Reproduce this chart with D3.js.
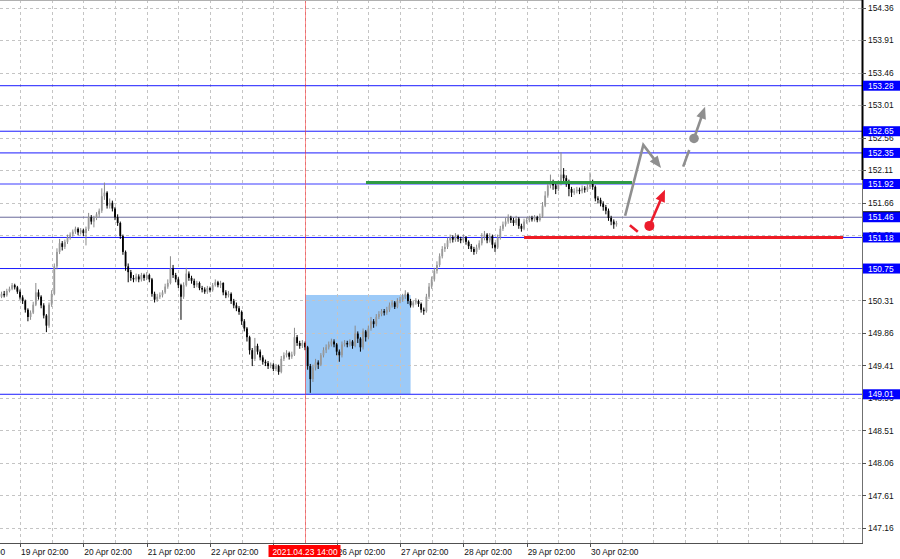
<!DOCTYPE html>
<html><head><meta charset="utf-8">
<script src="https://cdn.jsdelivr.net/npm/d3@7"></script>
<style>
body{margin:0;background:#fff;overflow:hidden;}
svg{display:block;}
text{font-family:"Liberation Sans",Arial,sans-serif;font-size:8.4px;}
</style>
</head><body>
<svg id="c" width="900" height="559"></svg>
<script>
// ---- H1 candles, bar 0 = 16 Apr 18:00 ----
const openP = [150.33,150.36,150.40,150.38,150.44,150.47,150.52,150.49,150.43,150.35,
150.30,150.18,150.08,150.14,150.25,150.42,150.36,150.24,150.10,149.96,
150.25,150.40,150.78,150.98,151.10,151.05,151.12,151.18,151.22,151.26,
151.30,151.25,151.28,151.24,151.30,151.46,151.40,151.45,151.50,151.55,
151.75,151.80,151.62,151.66,151.58,151.46,151.38,151.20,150.98,150.78,
150.70,150.62,150.60,150.64,150.60,150.66,150.62,150.66,150.60,150.40,
150.32,150.36,150.38,150.42,150.50,150.55,150.75,150.66,150.60,150.52,
150.36,150.52,150.68,150.62,150.58,150.52,150.55,150.48,150.46,150.43,
150.48,150.45,150.52,150.56,150.52,150.55,150.42,150.38,150.40,150.30,
150.24,150.20,150.15,150.02,149.92,149.80,149.62,149.50,149.68,149.60,
149.52,149.46,149.44,149.40,149.42,149.36,149.40,149.32,149.50,149.55,
149.58,149.53,149.56,149.80,149.72,149.68,149.72,149.66,149.40,149.22,
149.38,149.45,149.42,149.55,149.62,149.66,149.70,149.74,149.70,149.60,
149.55,149.70,149.72,149.70,149.74,149.68,149.85,149.78,149.66,149.88,
149.80,149.92,150.02,149.98,150.08,150.12,150.16,150.14,150.18,150.24,
150.28,150.22,150.30,150.32,150.36,150.40,150.30,150.24,150.28,150.30,
150.26,150.18,150.16,150.36,150.50,150.60,150.72,150.80,150.92,151.02,
151.05,151.14,151.18,151.15,151.20,151.16,151.14,151.18,151.12,151.06,
151.02,150.98,151.04,151.10,151.18,151.22,151.14,151.20,151.08,151.04,
151.18,151.30,151.36,151.40,151.45,151.42,151.38,151.44,151.34,151.30,
151.40,151.42,151.45,151.43,151.46,151.42,151.47,151.62,151.76,151.90,
151.95,151.90,151.85,151.92,152.05,152.00,151.95,151.85,151.80,151.82,
151.84,151.82,151.86,151.84,151.88,151.95,151.88,151.72,151.70,151.65,
151.60,151.55,151.45,151.40,151.36];
const highP = [150.40,150.43,150.44,150.47,150.50,150.55,150.54,150.51,150.46,150.38,
150.32,150.20,150.17,150.29,150.55,150.46,150.38,150.27,150.12,150.28,
150.45,150.82,151.03,151.16,151.13,151.15,151.22,151.25,151.29,151.33,
151.32,151.31,151.30,151.33,151.52,151.49,151.48,151.53,151.58,151.86,
151.94,151.82,151.72,151.69,151.60,151.50,151.40,151.22,151.00,150.82,
150.73,150.66,150.68,150.67,150.69,150.68,150.70,150.68,150.62,150.43,
150.40,150.42,150.45,150.54,150.60,150.92,150.80,150.69,150.63,150.54,
150.56,150.76,150.71,150.65,150.61,150.58,150.57,150.51,150.49,150.51,
150.50,150.55,150.60,150.58,150.58,150.56,150.45,150.44,150.42,150.33,
150.28,150.23,150.17,150.05,149.94,149.82,149.65,149.79,149.71,149.63,
149.55,149.49,149.47,149.45,149.44,149.43,149.42,149.54,149.59,149.62,
149.60,149.60,149.93,149.83,149.75,149.76,149.74,149.68,149.43,149.42,
149.50,149.48,149.58,149.66,149.70,149.74,149.78,149.77,149.72,149.63,
149.74,149.76,149.75,149.77,149.76,149.96,149.88,149.80,149.92,149.90,
149.96,150.08,150.05,150.12,150.16,150.19,150.19,150.22,150.28,150.31,
150.30,150.34,150.36,150.40,150.45,150.42,150.33,150.31,150.34,150.32,
150.28,150.21,150.40,150.55,150.64,150.76,150.85,150.96,151.06,151.10,
151.18,151.22,151.21,151.24,151.22,151.19,151.22,151.20,151.14,151.09,
151.05,151.08,151.14,151.24,151.27,151.24,151.24,151.22,151.11,151.22,
151.34,151.40,151.45,151.50,151.48,151.45,151.48,151.46,151.37,151.44,
151.46,151.48,151.48,151.49,151.48,151.51,151.67,151.82,151.96,152.05,
151.98,151.93,151.97,152.36,152.14,152.04,151.98,151.88,151.86,151.88,
151.87,151.90,151.89,151.93,152.08,151.98,151.90,151.75,151.73,151.68,
151.63,151.58,151.48,151.43,151.41];
const lowP = [150.30,150.34,150.35,150.36,150.42,150.45,150.46,150.40,150.32,150.26,
150.14,150.02,150.04,150.12,150.23,150.32,150.20,150.06,149.87,149.93,
150.22,150.38,150.74,150.95,151.00,151.02,151.09,151.15,151.19,151.23,
151.21,151.22,151.20,151.07,151.27,151.36,151.32,151.42,151.46,151.52,
151.70,151.58,151.58,151.54,151.42,151.34,151.16,150.94,150.72,150.56,
150.58,150.56,150.57,150.56,150.57,150.58,150.59,150.56,150.36,150.28,
150.29,150.33,150.35,150.40,150.47,150.53,150.62,150.56,150.48,150.04,
150.33,150.50,150.58,150.54,150.48,150.49,150.45,150.42,150.40,150.40,
150.42,150.43,150.50,150.49,150.48,150.38,150.34,150.35,150.26,150.20,
150.16,150.11,149.97,149.88,149.74,149.56,149.40,149.47,149.56,149.48,
149.42,149.40,149.36,149.37,149.33,149.33,149.28,149.30,149.47,149.52,
149.49,149.50,149.54,149.68,149.64,149.65,149.62,149.35,149.03,149.18,
149.34,149.36,149.40,149.52,149.58,149.63,149.67,149.66,149.55,149.46,
149.52,149.67,149.66,149.67,149.64,149.66,149.72,149.60,149.63,149.74,
149.77,149.89,149.93,149.95,150.05,150.09,150.10,150.11,150.15,150.21,
150.19,150.20,150.27,150.29,150.33,150.26,150.21,150.21,150.25,150.22,
150.14,150.11,150.14,150.33,150.47,150.57,150.68,150.77,150.89,150.98,
151.02,151.10,151.11,151.12,151.12,151.10,151.11,151.08,151.02,150.98,
150.94,150.95,151.01,151.07,151.14,151.10,151.11,151.03,150.98,151.02,
151.15,151.27,151.33,151.37,151.38,151.34,151.35,151.30,151.26,151.28,
151.37,151.39,151.40,151.40,151.39,151.40,151.45,151.60,151.73,151.86,
151.84,151.78,151.82,151.90,151.95,151.88,151.75,151.74,151.77,151.79,
151.78,151.79,151.80,151.81,151.85,151.84,151.68,151.65,151.61,151.55,
151.50,151.41,151.35,151.30,151.33];
const closeP = [150.36,150.40,150.38,150.44,150.47,150.52,150.49,150.43,150.35,150.30,
150.18,150.08,150.14,150.25,150.42,150.36,150.24,150.10,149.96,150.25,
150.40,150.78,150.98,151.10,151.05,151.12,151.18,151.22,151.26,151.30,
151.25,151.28,151.24,151.30,151.46,151.40,151.45,151.50,151.55,151.75,
151.80,151.62,151.66,151.58,151.46,151.38,151.20,150.98,150.78,150.70,
150.62,150.60,150.64,150.60,150.66,150.62,150.66,150.60,150.40,150.32,
150.36,150.38,150.42,150.50,150.55,150.75,150.66,150.60,150.52,150.36,
150.52,150.68,150.62,150.58,150.52,150.55,150.48,150.46,150.43,150.48,
150.45,150.52,150.56,150.52,150.55,150.42,150.38,150.40,150.30,150.24,
150.20,150.15,150.02,149.92,149.80,149.62,149.50,149.68,149.60,149.52,
149.46,149.44,149.40,149.42,149.36,149.40,149.32,149.50,149.55,149.58,
149.53,149.56,149.80,149.72,149.68,149.72,149.66,149.40,149.22,149.38,
149.45,149.42,149.55,149.62,149.66,149.70,149.74,149.70,149.60,149.55,
149.70,149.72,149.70,149.74,149.68,149.85,149.78,149.66,149.88,149.80,
149.92,150.02,149.98,150.08,150.12,150.16,150.14,150.18,150.24,150.28,
150.22,150.30,150.32,150.36,150.40,150.30,150.24,150.28,150.30,150.26,
150.18,150.16,150.36,150.50,150.60,150.72,150.80,150.92,151.02,151.05,
151.14,151.18,151.15,151.20,151.16,151.14,151.18,151.12,151.06,151.02,
150.98,151.04,151.10,151.18,151.22,151.14,151.20,151.08,151.04,151.18,
151.30,151.36,151.40,151.45,151.42,151.38,151.44,151.34,151.30,151.40,
151.42,151.45,151.43,151.46,151.42,151.47,151.62,151.76,151.90,151.95,
151.90,151.85,151.92,152.05,152.00,151.95,151.85,151.80,151.82,151.84,
151.82,151.86,151.84,151.88,151.95,151.88,151.72,151.70,151.65,151.60,
151.55,151.45,151.40,151.36,151.38];

// ---- axes ----
const yTickLabels = ["154.36","153.91","153.46","153.01","152.56","152.11","151.66","151.21","150.76","150.31","149.86","149.41","148.96","148.51","148.06","147.61","147.16"];
const xTickIdx = [-16, 8, 32, 56, 80, 104, 128, 152, 176, 200, 224];
const xTickLabels = ["16 Apr 02:00","19 Apr 02:00","20 Apr 02:00","21 Apr 02:00","22 Apr 02:00","23 Apr 02:00","26 Apr 02:00","27 Apr 02:00","28 Apr 02:00","29 Apr 02:00","30 Apr 02:00"];
const gridStartIdx = -4, gridStepBars = 12, gridCount = 28;

// ---- objects ----
const levelPrices = [153.28, 152.65, 152.35, 151.92, 151.46, 151.18, 150.75, 149.01];
const levelLabels = ["153.28","152.65","152.35","151.92","151.46","151.18","150.75","149.01"];
const levelKinds  = ["blue","blue","blue","light","gray","blue","blue","blue"];
const bidPrice = 151.53;
const vLineIdx = 116, vLineLabel = "2021.04.23 14:00";
const boxIdx = [116, 156], boxPrice = [149.01, 150.384];
const greenIdx = [139.1, 239.9], greenPrice = 151.94;
const redIdx = [199, 319.9], redPrice = 151.18;
const grayZigIdx = [237.3, 244.2, 250.9], grayZigPrice = [151.48, 152.46, 152.14];
const grayDashIdx = [259.3, 261.6], grayDashPrice = [152.16, 152.39];
const grayUpIdx = [263.4, 267.6], grayUpPrice = [152.55, 152.99];
const redDashIdx = [239.1, 242.1], redDashPrice = [151.35, 151.26];
const redUpIdx = [246.5, 252.4], redUpPrice = [151.34, 151.84];

const plotR = 862, plotB = 543;
const x = d3.scaleLinear().domain([0.42, 327.06]).range([0, plotR]);
const y = d3.scaleLinear().domain([146.952, 154.466]).range([plotB, 0]);
const crisp = v => Math.round(v) + 0.5;

const svg = d3.select("#c");
svg.append("rect").attr("width",900).attr("height",559).attr("fill","#fff");
svg.append("defs").append("clipPath").attr("id","pc").append("rect")
  .attr("x",0).attr("y",0).attr("width",plotR).attr("height",plotB);
const g = svg.append("g").attr("clip-path","url(#pc)");

// box
g.append("rect")
  .attr("x", x(boxIdx[0])).attr("y", y(boxPrice[1]))
  .attr("width", x(boxIdx[1]) - x(boxIdx[0]))
  .attr("height", y(boxPrice[0]) - y(boxPrice[1]))
  .attr("fill", "#9ccaf8");

// grid
const gridIdx = d3.range(gridCount).map(k => gridStartIdx + k*gridStepBars);
g.selectAll("line.gv").data(gridIdx).join("line")
  .attr("x1", d=>crisp(x(d))).attr("x2", d=>crisp(x(d)))
  .attr("y1",0).attr("y2",plotB)
  .attr("stroke","#c4c4c4").attr("stroke-dasharray","3,3");
g.selectAll("line.gh").data(yTickLabels).join("line")
  .attr("x1",0).attr("x2",plotR)
  .attr("y1", d=>crisp(y(+d))).attr("y2", d=>crisp(y(+d)))
  .attr("stroke","#c4c4c4").attr("stroke-dasharray","3,3");

// level lines
const levelColor = {blue:"#1a1aff", light:"#9d9dff", gray:"#6a6a9a"};
const levelW = {blue:1, light:2, gray:1};
g.selectAll("line.lv").data(levelPrices).join("line")
  .attr("x1",0).attr("x2",plotR)
  .attr("y1", d=>y(d)).attr("y2", d=>y(d))
  .attr("stroke", (d,i)=>levelColor[levelKinds[i]])
  .attr("stroke-width", (d,i)=>levelW[levelKinds[i]]);

// candles
const idx = d3.range(closeP.length);
const bull = i => closeP[i] >= openP[i];
g.selectAll("line.wick").data(idx).join("line")
  .attr("x1", i=>x(i)).attr("x2", i=>x(i))
  .attr("y1", i=>y(highP[i])).attr("y2", i=>y(lowP[i]))
  .attr("stroke", i=> bull(i) ? "#8a8a8a" : "#000").attr("stroke-width",1);
g.selectAll("rect.body").data(idx).join("rect")
  .attr("x", i=>x(i)-0.9).attr("width",1.8)
  .attr("y", i=>y(Math.max(openP[i],closeP[i])))
  .attr("height", i=>Math.max(1, Math.abs(y(openP[i])-y(closeP[i]))))
  .attr("fill", i=> bull(i) ? "#9a9a9a" : "#000");

// vertical red line
g.append("line").attr("x1",crisp(x(vLineIdx))).attr("x2",crisp(x(vLineIdx)))
  .attr("y1",0).attr("y2",plotB).attr("stroke","#ff3030").attr("stroke-opacity",0.55);

// green and red levels
g.append("line").attr("x1",x(greenIdx[0])).attr("x2",x(greenIdx[1]))
  .attr("y1",y(greenPrice)).attr("y2",y(greenPrice))
  .attr("stroke","#2e9a44").attr("stroke-width",3);
g.append("line").attr("x1",x(redIdx[0])).attr("x2",x(redIdx[1]))
  .attr("y1",y(redPrice)).attr("y2",y(redPrice))
  .attr("stroke","#ee1c25").attr("stroke-width",3);

// arrows
function head(p0, p1, col){
  const dx=p1[0]-p0[0], dy=p1[1]-p0[1], L=Math.hypot(dx,dy), ux=dx/L, uy=dy/L;
  const len=12, hw=5;
  const bx=p1[0]-ux*len, by=p1[1]-uy*len;
  g.append("polygon").attr("points",[[p1[0],p1[1]],[bx-uy*hw,by+ux*hw],[bx+uy*hw,by-ux*hw]].map(p=>p.join(",")).join(" "))
   .attr("fill",col);
  return [bx+ux*2, by+uy*2];
}
function path(ixs, prs, col, w, arrow){
  const pts = ixs.map((d,i)=>[x(d), y(prs[i])]);
  if(arrow){ pts[pts.length-1] = head(pts[pts.length-2], pts[pts.length-1], col); }
  g.append("path").attr("d", d3.line()(pts)).attr("fill","none")
   .attr("stroke",col).attr("stroke-width",w).attr("stroke-linejoin","miter");
}
const grayC = "#8f8f8f", redC = "#ec1c2c";
path(grayZigIdx, grayZigPrice, grayC, 2.6, true);
path(grayDashIdx, grayDashPrice, grayC, 2.6, false);
path(grayUpIdx, grayUpPrice, grayC, 2.6, true);
g.append("circle").attr("cx",x(grayUpIdx[0])).attr("cy",y(grayUpPrice[0])).attr("r",4.8).attr("fill",grayC);
path(redDashIdx, redDashPrice, redC, 2.6, false);
path(redUpIdx, redUpPrice, redC, 2.6, true);
g.append("circle").attr("cx",x(redUpIdx[0])).attr("cy",y(redUpPrice[0])).attr("r",5).attr("fill",redC);

// frame
svg.append("line").attr("x1",0).attr("x2",plotR).attr("y1",0.5).attr("y2",0.5).attr("stroke","#b0b0b0");
svg.append("line").attr("x1",plotR+0.5).attr("x2",plotR+0.5).attr("y1",0).attr("y2",plotB+1).attr("stroke","#707070");
svg.append("line").attr("x1",plotR+0.5).attr("x2",plotR+0.5).attr("y1",0).attr("y2",180).attr("stroke","#000").attr("stroke-width",2);
svg.append("line").attr("x1",0).attr("x2",plotR+1).attr("y1",plotB+0.5).attr("y2",plotB+0.5).attr("stroke","#505050");

// y axis
svg.selectAll("line.yt").data(yTickLabels).join("line")
  .attr("x1",plotR).attr("x2",plotR+4).attr("y1",d=>crisp(y(+d))).attr("y2",d=>crisp(y(+d))).attr("stroke","#505050");
svg.selectAll("text.yl").data(yTickLabels).join("text")
  .attr("x",plotR+6).attr("y",d=>y(+d)+3.2).attr("fill","#111").text(d=>d);

// bid marker
svg.append("line").attr("x1",plotR+1).attr("x2",900).attr("y1",y(bidPrice)).attr("y2",y(bidPrice)).attr("stroke","#000").attr("stroke-width",2);

// level labels
levelPrices.forEach((p,i)=>{
  svg.append("rect").attr("x",plotR+1).attr("y",y(p)-5).attr("width",40).attr("height",10).attr("fill","#0000ff");
  svg.append("text").attr("x",plotR+6).attr("y",y(p)+3.2).attr("fill","#fff").text(levelLabels[i]);
});

// x axis
svg.selectAll("line.xt").data(xTickIdx).join("line")
  .attr("x1",d=>crisp(x(d))).attr("x2",d=>crisp(x(d))).attr("y1",plotB).attr("y2",plotB+4).attr("stroke","#505050");
svg.selectAll("text.xl").data(xTickIdx).join("text")
  .attr("x",d=>x(d)+1).attr("y",plotB+11.5).attr("fill","#111").text((d,i)=>xTickLabels[i]);

// vertical line date label
const vx = x(vLineIdx);
svg.append("rect").attr("x",vx-36.5).attr("y",plotB+2).attr("width",72).attr("height",12).attr("fill","#ff0000");
svg.append("text").attr("x",vx).attr("y",plotB+11.5).attr("text-anchor","middle").attr("fill","#fff").text(vLineLabel);
</script>
</body></html>
